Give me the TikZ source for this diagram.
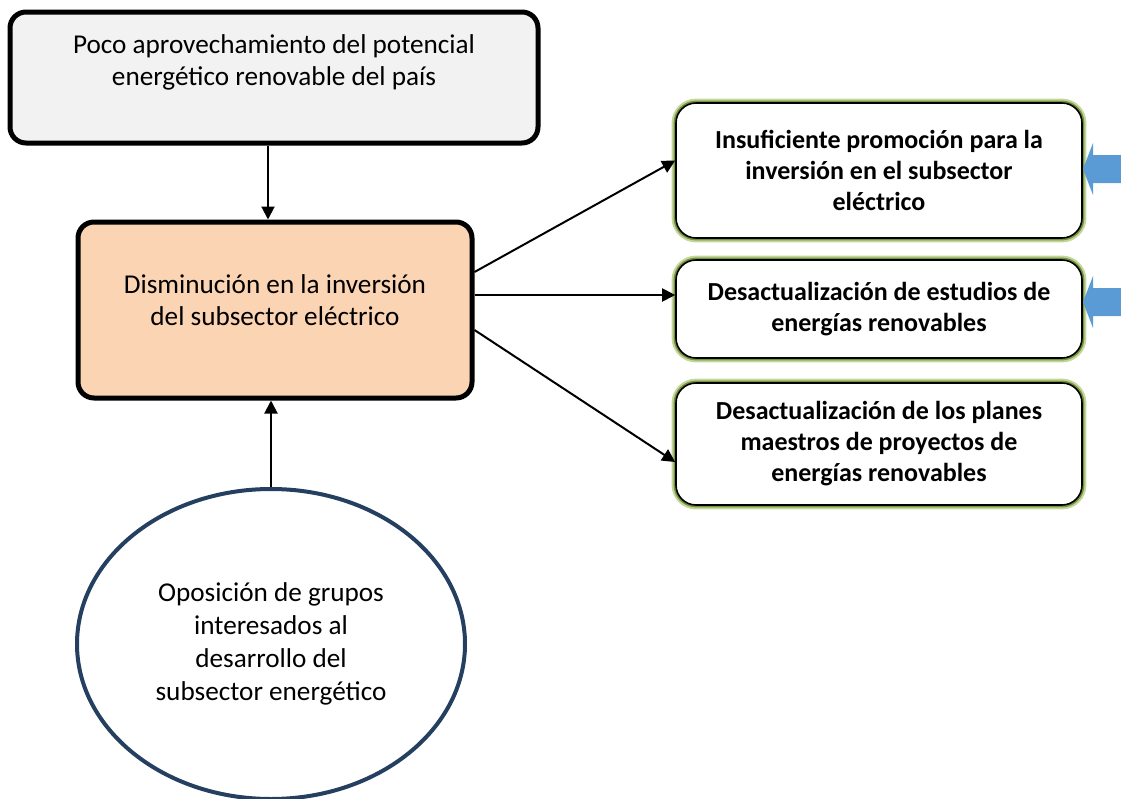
\documentclass[tikz,border=0pt]{standalone}
\usepackage{fontspec}
\setmainfont{Carlito}
\usepackage{xcolor}
\usetikzlibrary{shapes.geometric, arrows.meta, positioning, calc}
\definecolor{grisCaja}{HTML}{F2F2F2}
\definecolor{durazno}{HTML}{FBD4B4}
\definecolor{azulBorde}{HTML}{243F60}
\definecolor{verdeClaro}{HTML}{C3D69B}
\definecolor{verdeOscuro}{HTML}{76923C}
\definecolor{azulFlecha}{HTML}{5B9BD5}

\begin{document}
\begin{tikzpicture}[x=0.5pt, y=-0.5pt,
  caja/.style={draw, line width=2.5pt, rounded corners=8pt, align=center, font=\fontsize{13.6}{16}\selectfont},
  efecto/.style={draw=black, line width=0.8pt, fill=white, rounded corners=10pt, align=center,
    minimum width=203pt, font=\fontsize{13}{15.5}\selectfont\bfseries,
    preaction={draw=verdeClaro, line width=4.4pt}, preaction={draw=verdeOscuro, line width=2.4pt}},
  flecha/.style={-{Triangle[width=6.5pt,length=6.5pt]}, line width=1pt}]
  \useasboundingbox (0,0) rectangle (1121,799);
  % causa superior y problema central
  \node[caja, fill=grisCaja, minimum width=264pt, minimum height=65.5pt, text depth=17pt] (pocoAprov) at (274,77.5)
    {Poco aprovechamiento del potencial\\ energético renovable del país};
  \node[caja, fill=durazno, minimum width=197pt, minimum height=88pt, text depth=10pt] (dismInv) at (275,310)
    {Disminución en la inversión\\ del subsector eléctrico};
  \node[ellipse, draw=azulBorde, line width=2pt, minimum width=194pt, minimum height=155pt, align=center,
    font=\fontsize{13.6}{16.5}\selectfont] (oposicion) at (271,644)
    {Oposición de grupos\\ interesados al\\ desarrollo del\\ subsector energético};
  % efectos
  \node[efecto, minimum height=67.5pt] (promocion) at (879,170.5)
    {Insuficiente promoción para la\\ inversión en el subsector\\ eléctrico};
  \node[efecto, minimum height=49pt] (estudios) at (879,309)
    {Desactualización de estudios de\\ energías renovables};
  \node[efecto, minimum height=61pt] (planes) at (879,444)
    {Desactualización de los planes\\ maestros de proyectos de\\ energías renovables};
  % conectores
  \draw[flecha] ([xshift=-3pt]pocoAprov.south) -- ([xshift=-3pt]pocoAprov.south |- dismInv.north);
  \draw[flecha] (oposicion.north) -- (oposicion.north |- dismInv.south);
  \draw[flecha] ([yshift=19pt]dismInv.east) -- ([yshift=5pt]promocion.west);
  \draw[flecha] ([yshift=7.5pt]dismInv.east) -- ([yshift=7pt]estudios.west);
  \draw[flecha] ([yshift=-10pt]dismInv.east) -- ([yshift=-9pt]planes.west);
  % flechas azules del borde
  \foreach \yc in {169,302}
    \fill[azulFlecha] (1121,\yc-14) -- (1093,\yc-14) -- (1093,\yc-26) -- (1083,\yc)
      -- (1093,\yc+26) -- (1093,\yc+14) -- (1121,\yc+14) -- cycle;
\end{tikzpicture}
\end{document}
